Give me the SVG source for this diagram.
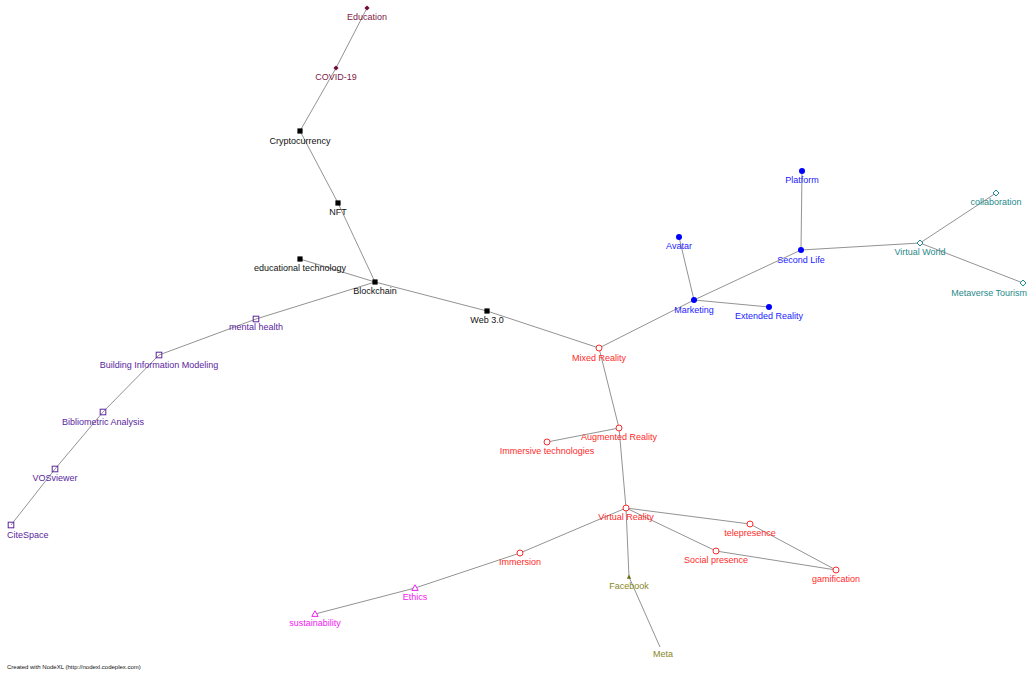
<svg xmlns="http://www.w3.org/2000/svg" width="1030" height="674" viewBox="0 0 1030 674">
<style>
text{font-family:"Liberation Sans",Arial,sans-serif;font-size:9px;text-anchor:middle}
.e line{stroke:#939393;stroke-width:1}
.mr{fill:#7e1a48}.mrs{fill:#6e0d3c}
.bk{fill:#111}.bks{fill:#000}
.pu{fill:#5a26a0}.pus{fill:none;stroke:#5a26a0;stroke-width:1}
.rd{fill:#ff2a2a}.rds{fill:#fff;stroke:#ff2a2a;stroke-width:1}
.bl{fill:#2222ff}.bls{fill:#0000ff}
.tl{fill:#1f8a8a}.tls{fill:#fff;stroke:#1f8a8a;stroke-width:1}
.mg{fill:#f020f0}.mgs{fill:#fff;stroke:#f020f0;stroke-width:1}
.ol{fill:#888826}.ols{fill:#6e6e10}
</style>
<defs>
<rect id="sq" x="-2.6" y="-2.6" width="5.2" height="5.2"/>
<rect id="hsq" x="-2.8" y="-2.8" width="5.6" height="5.6"/>
<circle id="ci" r="3"/>
<circle id="hc" r="3"/>
<path id="dm" d="M0,-2.6L2.6,0L0,2.6L-2.6,0Z"/>
<path id="hdm" d="M0,-3L3,0L0,3L-3,0Z"/>
<path id="tri" d="M0,-3.2L3.2,2.4L-3.2,2.4Z"/>
<path id="stri" d="M0,-2.4L2.2,1.8L-2.2,1.8Z"/>
</defs>
<rect width="1030" height="674" fill="#fff"/>
<g class="e" id="edges">
<line x1="367" y1="8" x2="336" y2="68"/>
<line x1="336" y1="68" x2="300" y2="131"/>
<line x1="300" y1="131" x2="338" y2="203"/>
<line x1="338" y1="203" x2="375" y2="282"/>
<line x1="300" y1="259" x2="375" y2="282"/>
<line x1="375" y1="282" x2="487" y2="311"/>
<line x1="375" y1="282" x2="256" y2="319"/>
<line x1="256" y1="319" x2="159" y2="355"/>
<line x1="159" y1="355" x2="103" y2="412"/>
<line x1="103" y1="412" x2="55" y2="469"/>
<line x1="55" y1="469" x2="11" y2="525"/>
<line x1="487" y1="311" x2="599" y2="348"/>
<line x1="599" y1="348" x2="694" y2="300"/>
<line x1="694" y1="300" x2="679" y2="237"/>
<line x1="694" y1="300" x2="801" y2="250"/>
<line x1="694" y1="300" x2="769" y2="307"/>
<line x1="801" y1="250" x2="802" y2="171"/>
<line x1="801" y1="250" x2="920" y2="243"/>
<line x1="920" y1="243" x2="996" y2="193"/>
<line x1="920" y1="243" x2="1023" y2="283"/>
<line x1="599" y1="348" x2="619" y2="428"/>
<line x1="619" y1="428" x2="547" y2="442"/>
<line x1="619" y1="428" x2="626" y2="508"/>
<line x1="626" y1="508" x2="750" y2="524"/>
<line x1="626" y1="508" x2="716" y2="551"/>
<line x1="626" y1="508" x2="629" y2="577"/>
<line x1="626" y1="508" x2="520" y2="553"/>
<line x1="750" y1="524" x2="836" y2="570"/>
<line x1="716" y1="551" x2="836" y2="570"/>
<line x1="629" y1="577" x2="660" y2="647"/>
<line x1="520" y1="553" x2="415" y2="588"/>
<line x1="415" y1="588" x2="315" y2="614"/>
</g>
<g id="n-education"><use href="#dm" class="mrs" x="367" y="8"/><text class="mr" x="367" y="20">Education</text></g>
<g id="n-covid"><use href="#dm" class="mrs" x="336" y="68"/><text class="mr" x="336" y="80">COVID-19</text></g>
<g id="n-crypto"><use href="#sq" class="bks" x="300" y="131"/><text class="bk" x="300" y="144">Cryptocurrency</text></g>
<g id="n-nft"><use href="#sq" class="bks" x="338" y="203"/><text class="bk" x="338" y="215">NFT</text></g>
<g id="n-edtech"><use href="#sq" class="bks" x="300" y="259"/><text class="bk" x="300" y="271">educational technology</text></g>
<g id="n-blockchain"><use href="#sq" class="bks" x="375" y="282"/><text class="bk" x="375" y="294">Blockchain</text></g>
<g id="n-web3"><use href="#sq" class="bks" x="487" y="311"/><text class="bk" x="487" y="323">Web 3.0</text></g>
<g id="n-mental"><use href="#hsq" class="pus" x="256" y="319"/><text class="pu" x="256" y="330">mental health</text></g>
<g id="n-bim"><use href="#hsq" class="pus" x="159" y="355"/><text class="pu" x="159" y="368">Building Information Modeling</text></g>
<g id="n-biblio"><use href="#hsq" class="pus" x="103" y="412"/><text class="pu" x="103" y="425">Bibliometric Analysis</text></g>
<g id="n-vos"><use href="#hsq" class="pus" x="55" y="469"/><text class="pu" x="55" y="481">VOSviewer</text></g>
<g id="n-cite"><use href="#hsq" class="pus" x="11" y="525"/><text class="pu" x="7" y="538" style="text-anchor:start">CiteSpace</text></g>
<g id="n-mixed"><use href="#hc" class="rds" x="599" y="348"/><text class="rd" x="599" y="361">Mixed Reality</text></g>
<g id="n-marketing"><use href="#ci" class="bls" x="694" y="300"/><text class="bl" x="694" y="313">Marketing</text></g>
<g id="n-avatar"><use href="#ci" class="bls" x="679" y="237"/><text class="bl" x="679" y="249">Avatar</text></g>
<g id="n-secondlife"><use href="#ci" class="bls" x="801" y="250"/><text class="bl" x="801" y="263">Second Life</text></g>
<g id="n-platform"><use href="#ci" class="bls" x="802" y="171"/><text class="bl" x="802" y="183">Platform</text></g>
<g id="n-extended"><use href="#ci" class="bls" x="769" y="307"/><text class="bl" x="769" y="319">Extended Reality</text></g>
<g id="n-vworld"><use href="#hdm" class="tls" x="920" y="243"/><text class="tl" x="920" y="255">Virtual World</text></g>
<g id="n-collab"><use href="#hdm" class="tls" x="996" y="193"/><text class="tl" x="996" y="205">collaboration</text></g>
<g id="n-tourism"><use href="#hdm" class="tls" x="1023" y="283"/><text class="tl" x="1027" y="296" style="text-anchor:end">Metaverse Tourism</text></g>
<g id="n-augmented"><use href="#hc" class="rds" x="619" y="428"/><text class="rd" x="619" y="440">Augmented Reality</text></g>
<g id="n-immtech"><use href="#hc" class="rds" x="547" y="442"/><text class="rd" x="547" y="454">Immersive technologies</text></g>
<g id="n-vr"><use href="#hc" class="rds" x="626" y="508"/><text class="rd" x="626" y="520">Virtual Reality</text></g>
<g id="n-telepresence"><use href="#hc" class="rds" x="750" y="524"/><text class="rd" x="750" y="536">telepresence</text></g>
<g id="n-social"><use href="#hc" class="rds" x="716" y="551"/><text class="rd" x="716" y="563">Social presence</text></g>
<g id="n-gamification"><use href="#hc" class="rds" x="836" y="570"/><text class="rd" x="836" y="582">gamification</text></g>
<g id="n-facebook"><use href="#stri" class="ols" x="629" y="577"/><text class="ol" x="629" y="589">Facebook</text></g>
<g id="n-meta"><text class="ol" x="663" y="657">Meta</text></g>
<g id="n-immersion"><use href="#hc" class="rds" x="520" y="553"/><text class="rd" x="520" y="565">Immersion</text></g>
<g id="n-ethics"><use href="#tri" class="mgs" x="415" y="588"/><text class="mg" x="415" y="600">Ethics</text></g>
<g id="n-sustain"><use href="#tri" class="mgs" x="315" y="614"/><text class="mg" x="315" y="626">sustainability</text></g>
<text x="7" y="669" style="font-size:6px;text-anchor:start" fill="#111">Created with NodeXL (http://nodexl.codeplex.com)</text>
</svg>
